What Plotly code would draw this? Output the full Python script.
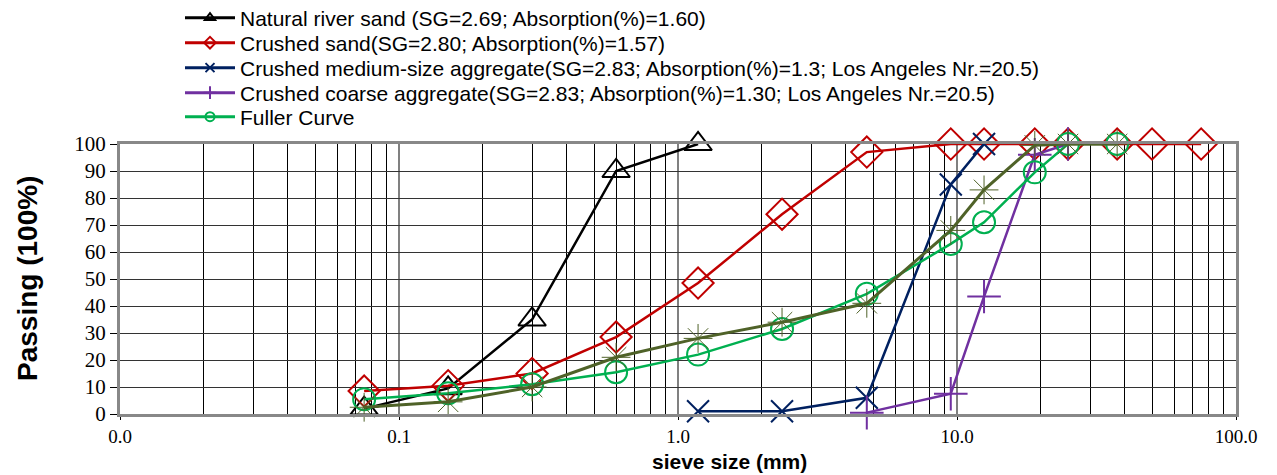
import plotly.graph_objects as go

nat_x = [0.075, 0.15, 0.3, 0.6, 1.18]
nat_y = [2, 9.5, 35, 90, 100]

cs_x = [0.075, 0.15, 0.3, 0.6, 1.18, 2.36, 4.75, 9.5, 12.5, 19, 25, 37.5, 50, 75]
cs_y = [8.5, 10.5, 15, 28.5, 48.5, 74, 97, 100, 100, 100, 100, 100, 100, 100]

med_x = [1.18, 2.36, 4.75, 9.5, 12.5]
med_y = [1, 1, 6, 85, 100]

coarse_x = [4.75, 9.5, 12.5, 19, 25]
coarse_y = [0.5, 7.5, 43.5, 96, 100]

fuller_x = [0.075, 0.15, 0.3, 0.6, 1.18, 2.36, 4.75, 9.5, 12.5, 19, 25, 37.5]
fuller_y = [5.5, 7.7, 11, 15.5, 22, 31.5, 44.5, 63, 71, 89.5, 100, 100]

blend_x = [0.075, 0.15, 0.3, 0.6, 1.18, 2.36, 4.75, 9.5, 12.5, 19, 25, 37.5]
blend_y = [2.5, 4.5, 10, 21, 28, 34, 41, 68, 83, 99.5, 100, 100]

names = [
    "Natural river sand (SG=2.69; Absorption(%)=1.60)",
    "Crushed sand(SG=2.80; Absorption(%)=1.57)",
    "Crushed medium-size aggregate(SG=2.83; Absorption(%)=1.3; Los Angeles Nr.=20.5)",
    "Crushed coarse aggregate(SG=2.83; Absorption(%)=1.30; Los Angeles Nr.=20.5)",
    "Fuller Curve",
]

x_tickvals = [0.01, 0.1, 1, 10, 100]
x_ticktext = ["0.0", "0.1", "1.0", "10.0", "100.0"]

W, H = 1277, 475
ML, MR, MT, MB = 120, 41, 144, 61
PW, PH = W - ML - MR, H - MT - MB
legend_ids = ["legend", "legend2", "legend3", "legend4", "legend5"]
legend_rows_px = [18, 43, 68, 93, 117]

fig = go.Figure()

def add(x, y, name, color, symbol, lg, size=22, width=2.5):
    fig.add_trace(go.Scatter(
        x=x, y=y, name=name, mode="lines+markers", showlegend=False, cliponaxis=False,
        line=dict(color=color, width=width),
        marker=dict(symbol=symbol, size=size, color=color,
                    line=dict(color=color, width=2)),
    ))
    # legend entry with small marker (as in the original chart)
    fig.add_trace(go.Scatter(
        x=[None], y=[None], name=name, mode="lines+markers", legend=lg,
        line=dict(color=color, width=3),
        marker=dict(symbol=symbol, size=9, color=color,
                    line=dict(color=color, width=2)),
    ))

add(nat_x, nat_y, names[0], "#000000", "triangle-up-open", legend_ids[0], size=24)
add(cs_x, cs_y, names[1], "#C00000", "diamond-open", legend_ids[1], size=24)
add(med_x, med_y, names[2], "#002060", "x-thin-open", legend_ids[2], size=22)
add(coarse_x, coarse_y, names[3], "#7030A0", "cross-thin-open", legend_ids[3], size=24)
add(fuller_x, fuller_y, names[4], "#00B050", "circle-open", legend_ids[4], size=22)
fig.add_trace(go.Scatter(
    x=blend_x, y=blend_y, mode="lines+markers", showlegend=False, cliponaxis=False,
    line=dict(color="#4F6228", width=3),
    marker=dict(symbol="asterisk-open", size=24, color="#4F6228",
                line=dict(color="#4F6228", width=1)),
))

legend_common = dict(
    xref="container", x=180 / W, xanchor="left", yref="container", yanchor="middle",
    font=dict(family="Liberation Sans", size=21, color="black"),
    bgcolor="rgba(0,0,0,0)", itemwidth=50,
)
legend_layout = {}
for lid, ypx in zip(legend_ids, legend_rows_px):
    legend_layout[lid] = dict(legend_common, y=1 - ypx / H)

fig.update_layout(
    width=W, height=H,
    margin=dict(l=ML, r=MR, t=MT, b=MB, autoexpand=False),
    paper_bgcolor="white", plot_bgcolor="white",
    font=dict(family="Liberation Sans", color="black"),
    xaxis=dict(
        type="log", range=[-2, 2],
        tickvals=x_tickvals, ticktext=x_ticktext,
        tickfont=dict(family="Liberation Serif", size=19, color="black"),
        ticks="outside", ticklen=3, tickcolor="black",
        showgrid=True, gridcolor="#808080", gridwidth=1.5,
        minor=dict(dtick="D1", showgrid=True, gridcolor="black", gridwidth=1, ticks=""),
        showline=True, linecolor="#888888", linewidth=3, mirror=True,
        zeroline=False,
    ),
    yaxis=dict(
        range=[0, 100], dtick=10,
        tickfont=dict(family="Liberation Serif", size=21, color="black"),
        ticks="outside", ticklen=7, tickcolor="black",
        showgrid=True, gridcolor="#333333", gridwidth=1,
        showline=True, linecolor="#888888", linewidth=3, mirror=True,
        zeroline=False,
    ),
    annotations=[
        dict(text="<b>sieve size (mm)</b>", xref="paper", yref="paper",
             x=(729 - ML) / PW, y=-(461 - (MT + PH)) / PH,
             xanchor="center", yanchor="middle", showarrow=False,
             font=dict(family="Liberation Sans", size=21, color="black")),
        dict(text="<b>Passing (100%)</b>", xref="paper", yref="paper",
             x=(27 - ML) / PW, y=0.5, textangle=-90,
             xanchor="center", yanchor="middle", showarrow=False,
             font=dict(family="Liberation Sans", size=28, color="black")),
    ],
    **legend_layout,
)

fig.write_html("out.html")
